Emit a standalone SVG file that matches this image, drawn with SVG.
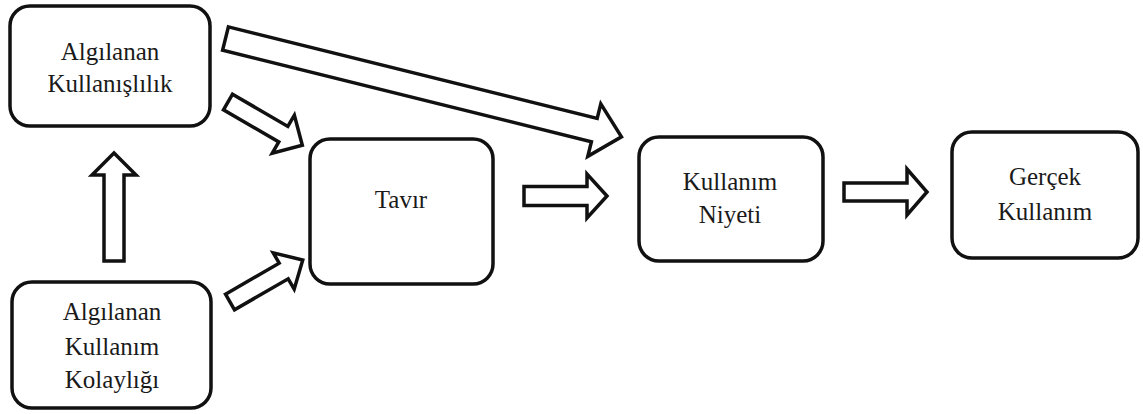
<svg xmlns="http://www.w3.org/2000/svg" width="1143" height="414" viewBox="0 0 1143 414">
  <style>
    .box { fill: #ffffff; stroke: #111111; stroke-width: 3.5; }
    .lbl { font-family: "Liberation Serif", "Times New Roman", serif; font-size: 25px; fill: #1a1a1a; text-anchor: middle; }
    .arr { fill: #ffffff; stroke: #111111; stroke-width: 3.5; stroke-linejoin: miter; }
  </style>
  <rect width="1143" height="414" fill="#ffffff"/>

  <!-- block arrows: drawn along +x from the tail centre, then placed -->
  <g id="connectors">
    <!-- Kullanışlılık -> Kullanım Niyeti -->
    <polygon class="arr" transform="translate(225.5,38.5) rotate(13.95)" points="0,-12 380,-12 380,-27 408,0 380,27 380,12 0,12"/>
    <!-- Kullanışlılık -> Tavır -->
    <polygon class="arr" transform="translate(228,102) rotate(30.2)" points="0,-9 64,-9 64,-22 86,0 64,22 64,9 0,9"/>
    <!-- Kolaylık -> Tavır -->
    <polygon class="arr" transform="translate(230,302) rotate(-30)" points="0,-9 62,-9 62,-21 84,0 62,21 62,9 0,9"/>
    <!-- Kolaylık -> Kullanışlılık -->
    <polygon class="arr" transform="translate(114,261) rotate(-90)" points="0,-10 86,-10 86,-22 108,0 86,22 86,10 0,10"/>
    <!-- Tavır -> Kullanım Niyeti -->
    <polygon class="arr" transform="translate(524,196)" points="0,-9.5 63,-9.5 63,-22 83,0 63,22 63,9.5 0,9.5"/>
    <!-- Kullanım Niyeti -> Gerçek Kullanım -->
    <polygon class="arr" transform="translate(844,192)" points="0,-9 63,-9 63,-23 83,0 63,23 63,9 0,9"/>
  </g>

  <g id="node-kullanislilik">
    <rect class="box" x="10" y="6" width="200" height="120" rx="20"/>
    <text class="lbl" x="110" y="60">Algılanan</text>
    <text class="lbl" x="110" y="92">Kullanışlılık</text>
  </g>

  <g id="node-kolaylik">
    <rect class="box" x="12" y="282" width="199" height="126" rx="20"/>
    <text class="lbl" x="112" y="320">Algılanan</text>
    <text class="lbl" x="112" y="355">Kullanım</text>
    <text class="lbl" x="112" y="388">Kolaylığı</text>
  </g>

  <g id="node-tavir">
    <rect class="box" x="310" y="139" width="183" height="145" rx="20"/>
    <text class="lbl" x="401" y="208">Tavır</text>
  </g>

  <g id="node-niyet">
    <rect class="box" x="639" y="137" width="184" height="124" rx="20"/>
    <text class="lbl" x="730" y="190">Kullanım</text>
    <text class="lbl" x="730" y="223">Niyeti</text>
  </g>

  <g id="node-gercek">
    <rect class="box" x="952" y="132" width="186" height="126" rx="20"/>
    <text class="lbl" x="1045" y="185">Gerçek</text>
    <text class="lbl" x="1045" y="220">Kullanım</text>
  </g>
</svg>
